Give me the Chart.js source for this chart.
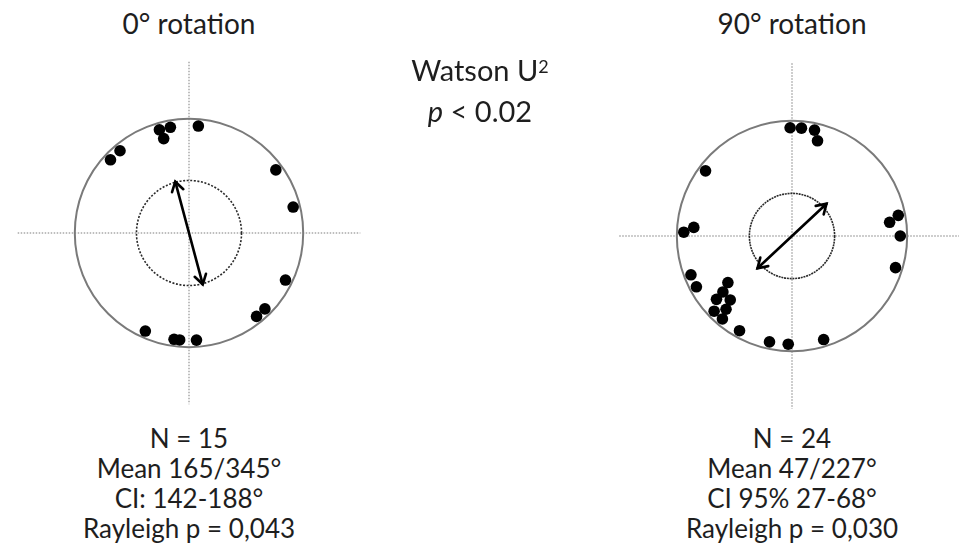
<!DOCTYPE html>
<html>
<head>
<meta charset="utf-8">
<title>Orientation under rotation</title>
<script src="https://cdn.jsdelivr.net/npm/chart.js@4.4.1/dist/chart.umd.min.js"></script>
<style>
  html, body { margin: 0; padding: 0; width: 959px; height: 554px; overflow: hidden; background: #fff; }
  body { position: relative; font-family: Lato, "Open Sans", sans-serif; color: #1e1e1e; }
  canvas.plot { position: absolute; }
  .txt { position: absolute; width: 400px; text-align: center; white-space: nowrap; }
  .title { font-size: 28px; line-height: 34px; }
  .stats { font-size: 26px; line-height: 30px; }
  .test { font-size: 29px; line-height: 40.5px; }
  .test sup { font-size: 0.62em; position: relative; top: -0.45em; vertical-align: baseline; line-height: 0; }
</style>
</head>
<body>
<canvas id="plotRot0" class="plot" width="360" height="360"></canvas>
<canvas id="plotRot90" class="plot" width="360" height="360"></canvas>

<script>
// ---- data -------------------------------------------------------------
const plotTitles = ['0° rotation', '90° rotation'];

// Headings of the individual animals, degrees clockwise from north
const anglesRot0 = [344, 350, 345, 5, 320, 313, 54, 76, 116, 135, 141, 204, 188, 185, 176];
const anglesRot90 = [359, 5, 12, 15, 307, 275, 272, 82, 79, 90, 107, 249, 242, 234, 231,
                     230, 224, 222, 226, 220, 209, 192, 182, 163];

// Stacking order of dots that share a heading (0 = on the rim, 1 = next one inward, ...)
const stackRot0 = [0, 0, 1, 0, 0, 0, 0, 0, 0, 0, 0, 0, 0, 0, 0];
const stackRot90 = [0, 0, 0, 1, 0, 1, 0, 1, 0, 0, 0, 0, 0, 3, 2, 1, 2, 1, 0, 0, 0, 0, 0, 0];

// Axial mean direction (both ends), mean vector length and Rayleigh critical radius
const meanAxisRot0 = [165, 345];
const meanAxisRot90 = [47, 227];
const meanVectorLength = [0.465, 0.41];
const rayleighCritical = [0.46, 0.37];

const ciRot0 = 'CI: 142-188°';
const ciRot90 = 'CI 95% 27-68°';
const rayleighP = ['0,043', '0,030'];

const comparisonTest = 'Watson U';
const comparisonP = '< 0.02';

// ---- layout -----------------------------------------------------------
const plots = [
  { id: 'plotRot0', cx: 189, cy: 233, radius: 118, critDash: [2, 1.6],
    angles: anglesRot0, stack: stackRot0, axis: meanAxisRot0, ci: ciRot0 },
  { id: 'plotRot90', cx: 792, cy: 236, radius: 119, critDash: [2, 0.8],
    angles: anglesRot90, stack: stackRot90, axis: meanAxisRot90, ci: ciRot90 }
];
const HALF = 180;          // half size of each plot canvas, px
const RIM_RING = 0.94;     // radial position of the outermost dot ring
const STACK_STEP = 0.084;  // radial spacing of stacked dots
const AXIS_REACH = 1.5;    // length of the dotted reference axes

const toRad = d => d * Math.PI / 180;

// Dotted cross, outer rim and critical circle under the dots; mean-axis arrow above them
const polarFrame = {
  id: 'polarFrame',
  beforeDatasetsDraw(chart, args, opts) {
    const { ctx } = chart;
    const xs = chart.scales.x, ys = chart.scales.y;
    const cx = xs.getPixelForValue(0), cy = ys.getPixelForValue(0);
    const unit = xs.getPixelForValue(1) - cx;
    ctx.save();
    ctx.strokeStyle = '#a9a9a9';
    ctx.lineWidth = 1.5;
    ctx.setLineDash([1.5, 1.5]);
    ctx.beginPath();
    ctx.moveTo(xs.getPixelForValue(-AXIS_REACH), cy);
    ctx.lineTo(xs.getPixelForValue(AXIS_REACH), cy);
    ctx.moveTo(cx, ys.getPixelForValue(AXIS_REACH));
    ctx.lineTo(cx, ys.getPixelForValue(-AXIS_REACH));
    ctx.stroke();

    ctx.setLineDash([]);
    ctx.strokeStyle = '#7a7a7a';
    ctx.lineWidth = 2;
    ctx.beginPath();
    ctx.arc(cx, cy, unit, 0, Math.PI * 2);
    ctx.stroke();

    ctx.setLineDash(opts.critDash);
    ctx.strokeStyle = '#2a2a2a';
    ctx.lineWidth = 1.6;
    ctx.beginPath();
    ctx.arc(cx, cy, unit * opts.critical, 0, Math.PI * 2);
    ctx.stroke();
    ctx.restore();
  },
  afterDatasetsDraw(chart, args, opts) {
    const { ctx } = chart;
    const xs = chart.scales.x, ys = chart.scales.y;
    const ends = opts.axis.map(a => ({
      x: xs.getPixelForValue(opts.length * Math.sin(toRad(a))),
      y: ys.getPixelForValue(opts.length * Math.cos(toRad(a)))
    }));
    ctx.save();
    ctx.strokeStyle = '#000';
    ctx.lineWidth = 2.6;
    ctx.lineCap = 'round';
    ctx.lineJoin = 'miter';
    ctx.beginPath();
    ctx.moveTo(ends[0].x, ends[0].y);
    ctx.lineTo(ends[1].x, ends[1].y);
    ctx.stroke();
    const head = 11, spread = toRad(32);
    [[ends[0], ends[1]], [ends[1], ends[0]]].forEach(([tip, from]) => {
      const ang = Math.atan2(tip.y - from.y, tip.x - from.x);
      ctx.beginPath();
      ctx.moveTo(tip.x - head * Math.cos(ang - spread), tip.y - head * Math.sin(ang - spread));
      ctx.lineTo(tip.x, tip.y);
      ctx.lineTo(tip.x - head * Math.cos(ang + spread), tip.y - head * Math.sin(ang + spread));
      ctx.stroke();
    });
    ctx.restore();
  }
};

plots.forEach((p, i) => {
  const canvas = document.getElementById(p.id);
  canvas.style.left = (p.cx - HALF) + 'px';
  canvas.style.top = (p.cy - HALF) + 'px';
  const extent = HALF / p.radius;
  const points = p.angles.map((a, k) => {
    const r = RIM_RING - STACK_STEP * p.stack[k];
    return { x: r * Math.sin(toRad(a)), y: r * Math.cos(toRad(a)) };
  });
  new Chart(canvas, {
    type: 'scatter',
    data: {
      datasets: [{
        data: points,
        pointRadius: 5.8,
        pointHoverRadius: 5.8,
        pointBackgroundColor: '#000',
        pointBorderWidth: 0,
        clip: false
      }]
    },
    options: {
      responsive: false,
      animation: false,
      devicePixelRatio: 1,
      events: [],
      layout: { padding: 0 },
      scales: {
        x: { type: 'linear', min: -extent, max: extent, display: false },
        y: { type: 'linear', min: -extent, max: extent, display: false }
      },
      plugins: {
        legend: { display: false },
        tooltip: { enabled: false },
        polarFrame: {
          critDash: p.critDash,
          critical: rayleighCritical[i],
          axis: p.axis,
          length: meanVectorLength[i]
        }
      }
    },
    plugins: [polarFrame]
  });

  // Title above and summary statistics below each plot
  const title = document.createElement('div');
  title.className = 'txt title';
  title.style.left = (p.cx - 200) + 'px';
  title.style.top = '6px';
  title.textContent = plotTitles[i];
  document.body.appendChild(title);

  const stats = document.createElement('div');
  stats.className = 'txt stats';
  stats.style.left = (p.cx - 200) + 'px';
  stats.style.top = '423px';
  const lines = [
    'N = ' + p.angles.length,
    'Mean ' + p.axis[0] + '/' + p.axis[1] + '°',
    p.ci,
    'Rayleigh p = ' + rayleighP[i]
  ];
  lines.forEach(t => {
    const d = document.createElement('div');
    d.textContent = t;
    stats.appendChild(d);
  });
  document.body.appendChild(stats);
});

// Between-condition comparison
const test = document.createElement('div');
test.className = 'txt test';
test.style.left = (480 - 200) + 'px';
test.style.top = '50px';
test.innerHTML = comparisonTest + '<sup>2</sup><br><i>p</i> ' + comparisonP.replace('<', '&lt;');
document.body.appendChild(test);
</script>
</body>
</html>
